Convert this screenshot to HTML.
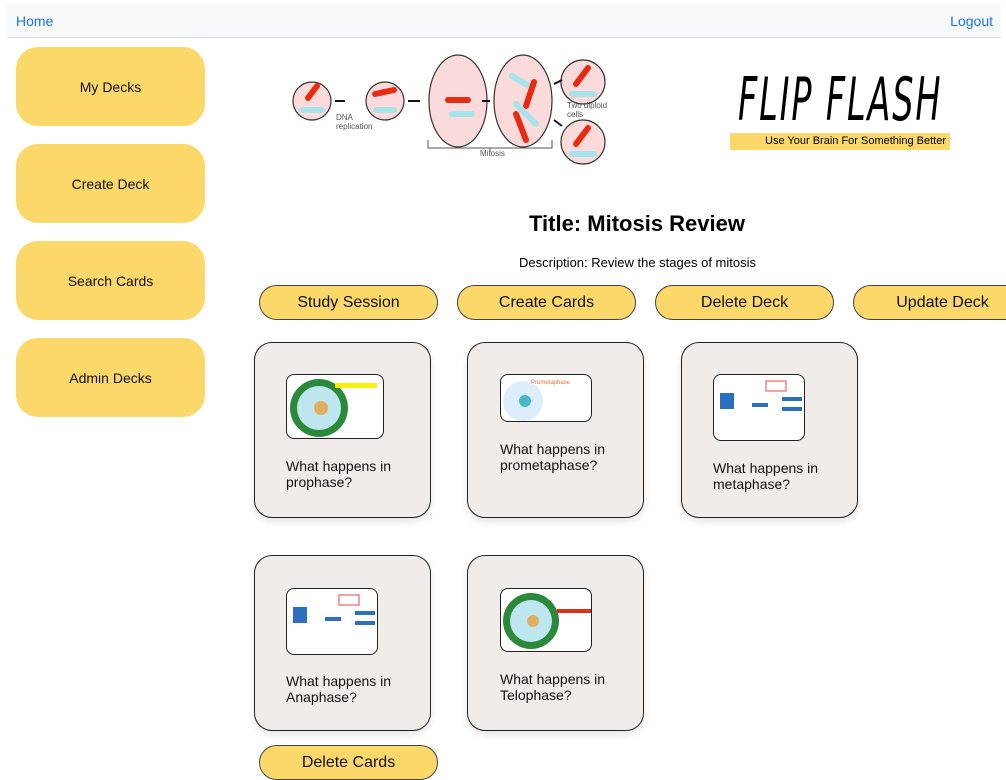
<!DOCTYPE html>
<html><head><meta charset="utf-8"><style>
*{box-sizing:border-box;margin:0;padding:0}
body{width:1006px;height:775px;overflow:hidden;background:#fff;font-family:"Liberation Sans",sans-serif;position:relative}
.a{position:absolute}
.nav{left:7px;top:3px;width:994px;height:35px;background:#f8f9fa;border-bottom:1px solid #ddd}
.nav span{position:absolute;top:10px;color:#1a73e8;font-size:14px}
.side{left:16px;width:189px;height:79px;background:#fcd86a;border-radius:22px;font-size:14px;display:flex;align-items:center;justify-content:center;color:#111}
.btn{top:285px;width:179px;height:35px;background:#fcd86a;border:1px solid #444;border-radius:18px;font-size:16px;display:flex;align-items:center;justify-content:center;color:#111}
.card{width:177px;height:176px;background:#f0ecea;border:1px solid #222;border-radius:18px;box-shadow:0 4px 8px rgba(0,0,0,.1)}
.img{background:#fff;border:1px solid #222;border-radius:8px;overflow:hidden}
.q{font-size:14px;line-height:16px;color:#111}
</style></head><body>
<div class="a nav"><span style="left:9px">Home</span><span style="right:8px">Logout</span></div>
<div class="a side" style="top:47px">My Decks</div>
<div class="a side" style="top:144px">Create Deck</div>
<div class="a side" style="top:241px">Search Cards</div>
<div class="a side" style="top:338px">Admin Decks</div>

<svg class="a" style="left:290px;top:50px" width="330" height="120">
<g stroke="#333" fill="#fadadb" stroke-width="1.2">
<circle cx="22" cy="51" r="19"/><circle cx="95" cy="51" r="19"/>
<ellipse cx="168" cy="51" rx="29" ry="46"/><ellipse cx="233" cy="51" rx="29" ry="46"/>
<circle cx="293" cy="32" r="22"/><circle cx="293" cy="92" r="22"/></g>
<g stroke-linecap="round" stroke-width="6">
<line x1="18" y1="48" x2="27" y2="36" stroke="#e82a10"/><line x1="12" y1="60" x2="32" y2="60" stroke="#a6e4ec"/>
<line x1="85" y1="44" x2="104" y2="40" stroke="#e82a10"/><line x1="86" y1="60" x2="104" y2="60" stroke="#a6e4ec"/>
<line x1="158" y1="50" x2="178" y2="50" stroke="#e82a10"/><line x1="162" y1="64" x2="182" y2="64" stroke="#a6e4ec"/>
<line x1="222" y1="26" x2="242" y2="38" stroke="#a6e4ec"/><line x1="244" y1="32" x2="236" y2="56" stroke="#e82a10"/><line x1="226" y1="54" x2="246" y2="74" stroke="#a6e4ec"/><line x1="226" y1="64" x2="236" y2="90" stroke="#e82a10"/>
<line x1="286" y1="34" x2="298" y2="18" stroke="#e82a10"/><line x1="282" y1="44" x2="304" y2="44" stroke="#a6e4ec"/>
<line x1="286" y1="94" x2="298" y2="78" stroke="#e82a10"/><line x1="282" y1="104" x2="304" y2="104" stroke="#a6e4ec"/></g>
<g stroke="#111" stroke-width="2"><line x1="45" y1="51" x2="55" y2="51"/><line x1="118" y1="51" x2="130" y2="51"/><line x1="192" y1="51" x2="200" y2="51"/><line x1="264" y1="34" x2="272" y2="30"/><line x1="264" y1="70" x2="272" y2="76"/></g>
<path d="M138 90v8h124v-8M200 98v4" stroke="#555" fill="none"/>
<text x="46" y="70" font-size="8" fill="#555">DNA</text><text x="46" y="79" font-size="8" fill="#555">replication</text>
<text x="190" y="106" font-size="8" fill="#555">Mitosis</text>
<text x="277" y="58" font-size="8" fill="#555">Two diploid</text><text x="277" y="67" font-size="8" fill="#555">cells</text>
</svg>

<div class="a" style="left:738px;top:70px;font-family:'DejaVu Sans Condensed',sans-serif;font-size:60px;font-style:italic;letter-spacing:3px;color:#000;transform:scaleX(.62);transform-origin:left;line-height:60px;white-space:nowrap">FLIP FLASH</div>
<div class="a" style="left:730px;top:133px;width:220px;height:17px;background:#fcd86a;font-size:11px;text-align:right;padding-right:4px;line-height:17px">Use Your Brain For Something Better</div>

<div class="a" style="left:400px;top:211px;width:474px;text-align:center;font-size:22px;font-weight:bold">Title: Mitosis Review</div>
<div class="a" style="left:400px;top:255px;width:475px;text-align:center;font-size:13px">Description: Review the stages of mitosis</div>

<div class="a btn" style="left:259px">Study Session</div>
<div class="a btn" style="left:457px">Create Cards</div>
<div class="a btn" style="left:655px">Delete Deck</div>
<div class="a btn" style="left:853px">Update Deck</div>

<div class="a card" style="left:254px;top:342px"></div>
<div class="a img" style="left:286px;top:374px;width:98px;height:65px"><svg width="98" height="65"><circle cx="32" cy="33" r="29" fill="#2a8a3a"/><circle cx="32" cy="33" r="22" fill="#bde6ef"/><circle cx="34" cy="33" r="7" fill="#e0b060"/><rect x="48" y="8" width="42" height="5" fill="#f5f010"/></svg></div>
<div class="a q" style="left:286px;top:458px">What happens in<br>prophase?</div>

<div class="a card" style="left:467px;top:342px"></div>
<div class="a img" style="left:500px;top:374px;width:92px;height:48px"><svg width="92" height="48"><circle cx="22" cy="26" r="20" fill="#dbeefa"/><circle cx="24" cy="26" r="6" fill="#4ab8c8"/><text x="30" y="9" font-size="6" fill="#f07030">Prometaphase</text></svg></div>
<div class="a q" style="left:500px;top:441px">What happens in<br>prometaphase?</div>

<div class="a card" style="left:681px;top:342px"></div>
<div class="a img" style="left:713px;top:374px;width:92px;height:67px"><svg width="92" height="67"><g fill="#2a6fc0"><rect x="6" y="18" width="14" height="16"/><rect x="38" y="28" width="16" height="4"/><rect x="68" y="22" width="20" height="4"/><rect x="68" y="32" width="20" height="4"/></g><rect x="52" y="6" width="20" height="10" fill="none" stroke="#e44"/></svg></div>
<div class="a q" style="left:713px;top:460px">What happens in<br>metaphase?</div>

<div class="a card" style="left:254px;top:555px"></div>
<div class="a img" style="left:286px;top:588px;width:92px;height:67px"><svg width="92" height="67"><g fill="#2a6fc0"><rect x="6" y="18" width="14" height="16"/><rect x="38" y="28" width="16" height="4"/><rect x="68" y="22" width="20" height="4"/><rect x="68" y="32" width="20" height="4"/></g><rect x="52" y="6" width="20" height="10" fill="none" stroke="#e44"/></svg></div>
<div class="a q" style="left:286px;top:673px">What happens in<br>Anaphase?</div>

<div class="a card" style="left:467px;top:555px"></div>
<div class="a img" style="left:500px;top:588px;width:92px;height:64px"><svg width="92" height="64"><circle cx="30" cy="32" r="28" fill="#2a8a3a"/><circle cx="30" cy="32" r="21" fill="#bde6ef"/><circle cx="32" cy="32" r="6" fill="#e0b060"/><rect x="56" y="20" width="34" height="4" fill="#e03010"/></svg></div>
<div class="a q" style="left:500px;top:671px">What happens in<br>Telophase?</div>

<div class="a btn" style="left:259px;top:745px">Delete Cards</div>
</body></html>
